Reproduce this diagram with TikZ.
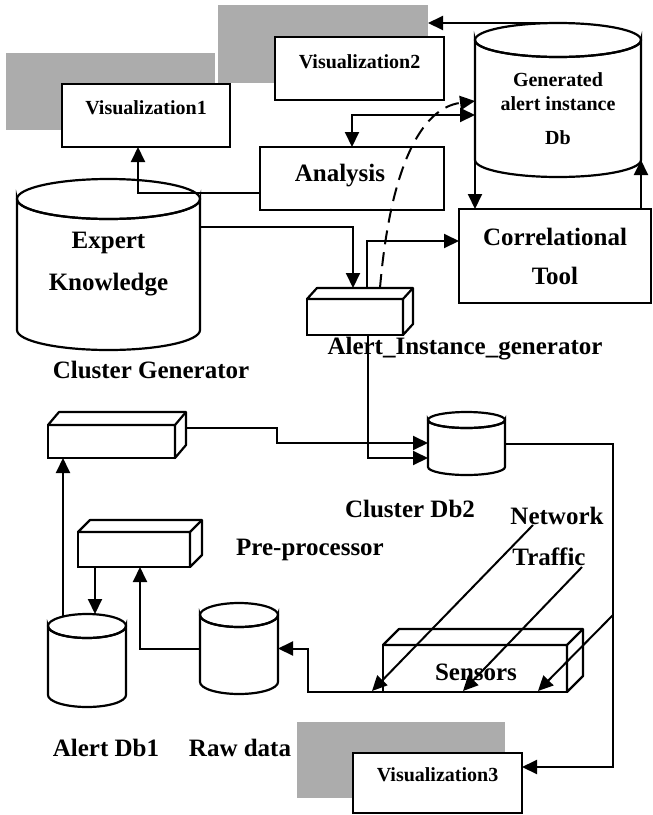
\documentclass[tikz,border=0pt]{standalone}
\usepackage{fontspec}
\setmainfont{Liberation Serif}
\usetikzlibrary{arrows.meta,calc}
\newcommand{\cyl}[6]{%
  \draw[line width=1.1pt,fill=white] (#2-#5,#3) -- (#2-#5,#4) arc[start angle=180,end angle=0,x radius=#5,y radius=#6] -- (#2+#5,#3) arc[start angle=0,end angle=180,x radius=#5,y radius=#6] -- cycle;
  \draw[line width=1.1pt] (#2,#3) ellipse[x radius=#5,y radius=#6];
  \node[inner sep=0pt,outer sep=0pt,minimum width=#5pt,minimum height={(#4-#3)*0.5pt}] (#1) at (#2,{(#3+#4)/2}) {};
  \coordinate (#1-top) at (#2,#3-#6);}
\newcommand{\threed}[3]{%
  \draw[line width=1.1pt,fill=white,line join=round] (#1.north west) -- ++(#2,-#3) coordinate (#1-bl) -- ($(#1.north east)+(#2,-#3)$) coordinate (#1-br) -- ($(#1.south east)+(#2,-#3)$) -- (#1.south east) -- (#1.north east) -- cycle;
  \draw[line width=1.1pt] (#1.north east) -- (#1-br);}
\begin{document}
\begin{tikzpicture}[x=0.5pt,y=-0.5pt,
  ln/.style={line width=1pt},
  arr/.style={ln,-{Triangle[length=7.5pt,width=7pt]}},
  darr/.style={ln,{Triangle[length=7.5pt,width=7pt]}-{Triangle[length=7.5pt,width=7pt]}},
  boxl/.style={draw,line width=1.2pt,fill=white,inner sep=0pt,outer sep=0pt},
  shad/.style={fill=gray!65,inner sep=0pt,outer sep=0pt},
  big/.style={font=\fontsize{12.5}{15}\selectfont\bfseries,inner sep=0pt},
  sml/.style={font=\fontsize{10}{12}\selectfont\bfseries,inner sep=0pt}]

\path[use as bounding box] (0,0) rectangle (653,815);

% shadows
\node[shad,minimum width=104.5pt,minimum height=38.5pt] (sh1) at (110.5,91.5) {};
\node[shad,minimum width=105pt,minimum height=39pt] (sh2) at (323,44) {};
\node[shad,minimum width=104pt,minimum height=38pt] (sh3) at (401,760) {};

% visualization boxes
\node[boxl,minimum width=84pt,minimum height=31.5pt] (vis1) at (146,115.5) {};
\node[sml] (vis1t) at (146,108) {Visualization1};
\node[boxl,minimum width=84.5pt,minimum height=31.5pt] (vis2) at (359.5,68.5) {};
\node[sml] (vis2t) at (359.5,62) {Visualization2};
\node[boxl,minimum width=84.5pt,minimum height=30pt] (vis3) at (437.5,783) {};
\node[sml] (vis3t) at (437.5,775) {Visualization3};

% analysis and correlational tool
\node[boxl,minimum width=92pt,minimum height=31.5pt] (ana) at (352,178.5) {};
\node[big] (anat) at (340,176) {Analysis};
\node[boxl,minimum width=96pt,minimum height=47pt,align=center,font=\fontsize{12.5}{19.5}\selectfont\bfseries] (cor) at (555,256) {Correlational\\Tool};

% cylinders
\cyl{gen}{558}{40}{160}{83}{17}
\cyl{ek}{108.5}{199}{330}{91.5}{20}
\cyl{cdb2}{466.5}{420}{467}{38.5}{8}
\cyl{raw}{239}{615}{682}{39}{12}
\cyl{adb1}{87}{626}{695}{39}{12}
\node[sml,align=center] (gent) at (558,109) {Generated\\alert instance\\[5pt]Db};
\node[align=center,inner sep=0pt,font=\fontsize{12.5}{21}\selectfont\bfseries] (ekt) at (108.5,264) {Expert\\Knowledge};

% 3d boxes
\node[boxl,minimum width=48pt,minimum height=18pt] (aig) at (355,317) {};
\threed{aig}{10}{11}
\node[boxl,minimum width=63.5pt,minimum height=16.5pt] (cg) at (111.5,441.5) {};
\threed{cg}{11}{13}
\node[boxl,minimum width=56pt,minimum height=17.5pt] (pp) at (134,549.5) {};
\threed{pp}{12}{12}
\node[boxl,minimum width=92pt,minimum height=23.5pt] (sen) at (475,668.5) {};
\threed{sen}{16}{16}

% connectors
\coordinate (c1) at (138,193);
\draw[arr] (ana.west |- c1) -- (c1) -- (c1 |- vis1.south);
\coordinate (c2) at (353,227);
\draw[arr] (ek.east |- c2) -- (c2) -- (c2 |- aig-bl);
\coordinate (c3) at (367,241);
\draw[arr] (c3 |- aig-bl) -- (c3) -- (c3 -| cor.west);
\coordinate (d0) at (380,288);
\coordinate (d1) at (475,101);
\draw[arr,dash pattern=on 7pt off 4pt] (d0) .. controls (390,170) and (420,108) .. (gen.west |- d1);
\coordinate (c5) at (352,115);
\draw[darr] (gen.west |- c5) -- (c5) -- (ana.north);
\draw[arr] (gen-top) -- (gen-top -| sh2.east);
\draw[arr] (gen.south west) -- (gen.south west |- cor.north);
\draw[arr] (gen.south east |- cor.north) -- (gen.south east);
\coordinate (c9) at (368,458);
\draw[arr] (c9 |- aig.south) -- (c9) -- (c9 -| cdb2.west);
\coordinate (c10a) at (277,428);
\coordinate (c10b) at (277,443);
\draw[arr] (c10a -| cg-br) -- (c10a) -- (c10b) -- (c10b -| cdb2.west);
\coordinate (c11) at (613,767);
\draw[arr] (cdb2.east) -- (cdb2.east -| c11) -- (c11) -- (c11 -| vis3.east);
\coordinate (c12) at (613,615);
\coordinate (t3) at (538,691);
\draw[arr] (c12) -- (t3);
\coordinate (n1) at (533,525);
\coordinate (t1) at (372,691);
\draw[arr] (n1) -- (t1);
\coordinate (n2) at (582,567);
\coordinate (t2) at (463,691);
\draw[arr] (n2) -- (t2);
\coordinate (c15) at (308,692);
\draw[arr] (sen.south east) -- (c15) |- (raw.east);
\coordinate (c16) at (140,648.5);
\draw[arr] (raw.west) -- (raw.west -| c16) -- (c16 |- pp.south);
\coordinate (c17) at (95,0);
\draw[arr] (c17 |- pp.south) -- (c17 |- adb1-top);
\coordinate (c18) at (63,616);
\draw[arr] (c18) -- (c18 |- cg.south);

% labels
\node[big] (cgl) at (151,370) {Cluster Generator};
\node[big] (aigl) at (465,349) {Alert\_Instance\_generator};
\node[big] (cdbl) at (410,509) {Cluster Db2};
\node[big] (netl) at (557,516) {Network};
\node[big] (trl) at (549,557) {Traffic};
\node[big] (ppl) at (310,550) {Pre-processor};
\node[big] (senl) at (476,672) {Sensors};
\node[big] (adbl) at (106,748) {Alert Db1};
\node[big] (rawl) at (240,748) {Raw data};
\end{tikzpicture}
\end{document}
